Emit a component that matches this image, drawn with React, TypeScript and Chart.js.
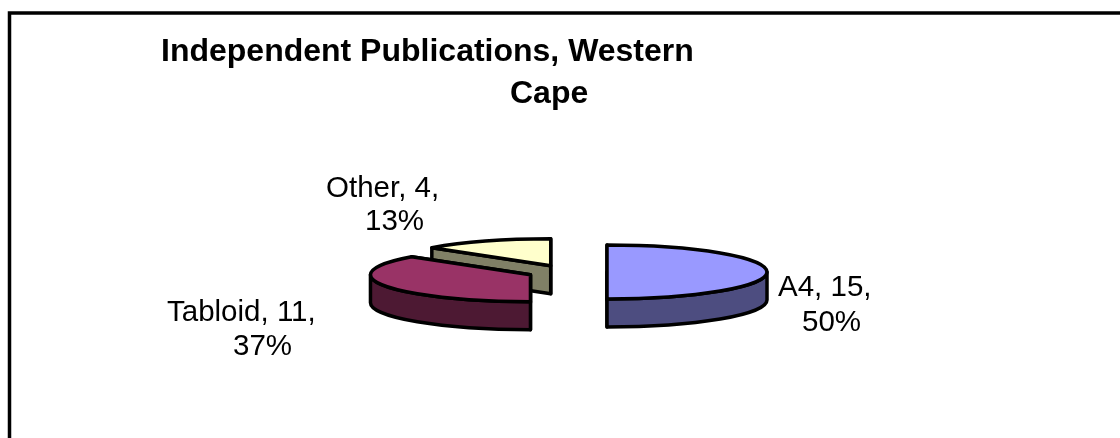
import React, { useEffect, useRef } from "react";
import { Chart, registerables } from "chart.js";

Chart.register(...registerables);

const categories = ["A4", "Tabloid", "Other"];
const counts = [15, 11, 4];
const percents = [50, 37, 13];
const topColors = ["#9999FF", "#993366", "#FFFFCC"];
const wallColors = ["#4D4D80", "#4D1933", "#808066"];
const titleLines = ["Independent Publications, Western", "Cape"];

const TILT = 27 / 160;
const DEPTH = 28;
const FONT = "Liberation Sans, Arial, sans-serif";

// Title lines and slice captions sit where the layout puts them, line by line.
const titleAnchors = [[161, 61], [510, 103]];
const captionAnchors = [
  [[778, 296], [802, 331]],
  [[167, 321], [233, 355]],
  [[326, 197], [365, 230]],
];

// Draws the pie's arc elements as tilted slabs, so stroke widths stay uniform.
const tiltedPie = {
  id: "tiltedPie",
  beforeDatasetDraw(chart: any, args: any) {
    const ctx = chart.ctx as CanvasRenderingContext2D;
    const arcs = args.meta.data as any[];
    const order = [2, 1, 0];
    ctx.save();
    ctx.lineWidth = 3.5;
    ctx.lineJoin = "round";
    ctx.strokeStyle = "#000";
    for (const i of order) {
      const arc = arcs[i];
      const { x, y, startAngle, endAngle, outerRadius } = arc.getProps(
        ["x", "y", "startAngle", "endAngle", "outerRadius"],
        true
      );
      const off = arc.options.offset || 0;
      const mid = (startAngle + endAngle) / 2;
      const cx = x + Math.cos(mid) * off;
      const cy = y + Math.sin(mid) * off * TILT;
      const rx = outerRadius;
      const ry = outerRadius * TILT;
      const px = (a: number) => cx + Math.cos(a) * rx;
      const py = (a: number) => cy + Math.sin(a) * ry;

      // Cut faces along both radial edges
      ctx.fillStyle = wallColors[i];
      for (const a of [startAngle, endAngle]) {
        ctx.beginPath();
        ctx.moveTo(cx, cy);
        ctx.lineTo(px(a), py(a));
        ctx.lineTo(px(a), py(a) + DEPTH);
        ctx.lineTo(cx, cy + DEPTH);
        ctx.closePath();
        ctx.fill();
        ctx.stroke();
      }

      // Rim on the near half of the ellipse
      const from = Math.max(startAngle, 0);
      const to = Math.min(endAngle, Math.PI);
      if (to > from) {
        ctx.beginPath();
        ctx.ellipse(cx, cy, rx, ry, 0, from, to);
        ctx.lineTo(px(to), py(to) + DEPTH);
        ctx.ellipse(cx, cy + DEPTH, rx, ry, 0, to, from, true);
        ctx.closePath();
        ctx.fill();
        ctx.stroke();
      }

      // Top face
      ctx.fillStyle = topColors[i];
      ctx.beginPath();
      ctx.moveTo(cx, cy);
      ctx.ellipse(cx, cy, rx, ry, 0, startAngle, endAngle);
      ctx.closePath();
      ctx.fill();
      ctx.stroke();
    }
    ctx.restore();
    return false;
  },
  afterDraw(chart: any) {
    const ctx = chart.ctx as CanvasRenderingContext2D;
    const { width, height } = chart;
    ctx.save();

    // Frame running off the right and bottom of the canvas
    ctx.strokeStyle = "#000";
    ctx.lineWidth = 3.5;
    ctx.beginPath();
    ctx.moveTo(9.5, height + 5);
    ctx.lineTo(9.5, 13);
    ctx.lineTo(width + 5, 13);
    ctx.stroke();

    ctx.fillStyle = "#000";
    ctx.textBaseline = "alphabetic";
    ctx.textAlign = "left";
    ctx.font = `bold 32px ${FONT}`;
    titleLines.forEach((line, i) => {
      ctx.fillText(line, titleAnchors[i][0], titleAnchors[i][1]);
    });

    ctx.font = `29.5px ${FONT}`;
    categories.forEach((name, i) => {
      const [first, second] = captionAnchors[i];
      ctx.fillText(`${name}, ${counts[i]},`, first[0], first[1]);
      ctx.fillText(`${percents[i]}%`, second[0], second[1]);
    });
    ctx.restore();
  },
};

export default function App() {
  const canvasRef = useRef<HTMLCanvasElement>(null);

  useEffect(() => {
    const chart = new Chart(canvasRef.current as HTMLCanvasElement, {
      type: "pie",
      data: {
        labels: categories,
        datasets: [
          {
            data: counts,
            backgroundColor: topColors,
            borderWidth: 0,
            offset: 40,
          } as any,
        ],
      },
      options: {
        animation: false,
        responsive: false,
        radius: 160,
        layout: { padding: { left: 14, top: 106 } },
        plugins: { legend: { display: false }, title: { display: false }, tooltip: { enabled: false } },
      } as any,
      plugins: [tiltedPie],
    });
    return () => chart.destroy();
  }, []);

  return (
    <div style={{ position: "absolute", left: 0, top: 0, width: 1120, height: 438, overflow: "hidden", background: "#fff" }}>
      <canvas ref={canvasRef} width={1120} height={438} style={{ display: "block" }} />
    </div>
  );
}
